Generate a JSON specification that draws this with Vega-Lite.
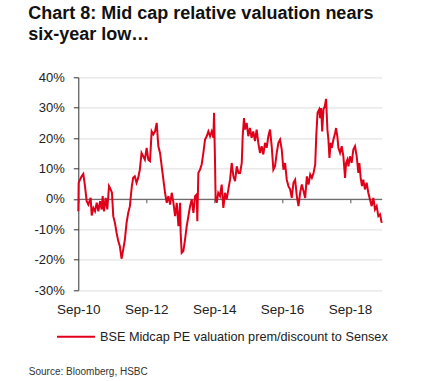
{
"$schema":"https://vega.github.io/schema/vega-lite/v6.json",
"autosize":{"type":"none"},
"width":303.4,"height":212.7,
"padding":{"left":78.3,"top":77.3,"right":44.3,"bottom":91},
"background":"white",
"config":{"font":"Liberation Sans","view":{"stroke":null}},
"title":{"text":["Chart 8: Mid cap relative valuation nears","six-year low…"],"anchor":"start","frame":"group","dx":-50,"offset":27,"fontSize":18,"fontWeight":"bold","lineHeight":21.5,"color":"#111","font":"Liberation Sans"},
"data":{"values":[
{"d":"2010-09-01","v":-4.1},{"d":"2010-09-05","v":5.3},{"d":"2010-09-19","v":6.3},{"d":"2010-10-07","v":7.4},{"d":"2010-10-25","v":8.2},{"d":"2010-11-12","v":4.2},{"d":"2010-11-30","v":-0.8},{"d":"2010-12-18","v":-1.9},{"d":"2011-01-12","v":0.3},{"d":"2011-01-23","v":-5.5},{"d":"2011-02-10","v":-3.0},{"d":"2011-02-28","v":-4.1},{"d":"2011-03-18","v":-1.3},{"d":"2011-04-05","v":-4.1},{"d":"2011-04-23","v":-0.8},{"d":"2011-05-10","v":-3.5},{"d":"2011-05-21","v":0.9},{"d":"2011-06-04","v":-4.1},{"d":"2011-06-22","v":0.3},{"d":"2011-07-10","v":-3.5},{"d":"2011-07-28","v":4.2},{"d":"2011-08-15","v":3.1},{"d":"2011-08-29","v":2.0},{"d":"2011-09-12","v":-5.7},{"d":"2011-09-30","v":-7.9},{"d":"2011-10-18","v":-11.2},{"d":"2011-11-05","v":-13.9},{"d":"2011-11-22","v":-15.6},{"d":"2011-12-10","v":-19.7},{"d":"2011-12-28","v":-16.7},{"d":"2012-01-15","v":-13.4},{"d":"2012-02-02","v":-7.9},{"d":"2012-02-20","v":-4.6},{"d":"2012-03-09","v":-2.4},{"d":"2012-03-19","v":0.9},{"d":"2012-03-30","v":4.2},{"d":"2012-04-13","v":6.9},{"d":"2012-05-01","v":7.4},{"d":"2012-05-19","v":5.3},{"d":"2012-06-06","v":6.9},{"d":"2012-06-24","v":9.6},{"d":"2012-07-12","v":15.1},{"d":"2012-07-30","v":14.0},{"d":"2012-08-17","v":12.9},{"d":"2012-09-05","v":16.8},{"d":"2012-09-23","v":12.9},{"d":"2012-10-11","v":12.4},{"d":"2012-10-29","v":22.2},{"d":"2012-11-16","v":21.2},{"d":"2012-12-04","v":22.2},{"d":"2012-12-22","v":25.0},{"d":"2013-01-09","v":17.3},{"d":"2013-01-27","v":15.1},{"d":"2013-02-14","v":10.7},{"d":"2013-03-04","v":6.3},{"d":"2013-03-22","v":2.0},{"d":"2013-04-09","v":-1.3},{"d":"2013-04-27","v":0.9},{"d":"2013-05-15","v":-1.9},{"d":"2013-06-02","v":2.0},{"d":"2013-06-20","v":-1.3},{"d":"2013-07-08","v":-5.7},{"d":"2013-07-26","v":-1.3},{"d":"2013-08-13","v":-9.0},{"d":"2013-08-31","v":-1.3},{"d":"2013-09-06","v":-11.2},{"d":"2013-09-17","v":-17.8},{"d":"2013-10-05","v":-17.2},{"d":"2013-10-23","v":-13.4},{"d":"2013-11-10","v":-9.0},{"d":"2013-11-28","v":-5.7},{"d":"2013-12-16","v":-2.4},{"d":"2014-01-03","v":-0.2},{"d":"2014-01-21","v":-4.6},{"d":"2014-02-08","v":0.9},{"d":"2014-02-26","v":1.5},{"d":"2014-03-04","v":-7.4},{"d":"2014-03-15","v":8.5},{"d":"2014-04-02","v":9.6},{"d":"2014-04-20","v":11.3},{"d":"2014-05-08","v":15.1},{"d":"2014-05-26","v":19.5},{"d":"2014-06-13","v":20.6},{"d":"2014-07-01","v":22.2},{"d":"2014-07-19","v":20.6},{"d":"2014-08-06","v":22.2},{"d":"2014-08-24","v":20.1},{"d":"2014-08-31","v":28.3},{"d":"2014-09-10","v":12.9},{"d":"2014-09-17","v":-0.2},{"d":"2014-09-28","v":-1.3},{"d":"2014-10-15","v":2.0},{"d":"2014-11-03","v":0.9},{"d":"2014-11-21","v":4.7},{"d":"2014-12-09","v":-3.0},{"d":"2014-12-27","v":2.0},{"d":"2015-01-14","v":-0.2},{"d":"2015-02-01","v":3.1},{"d":"2015-02-19","v":6.3},{"d":"2015-03-09","v":11.8},{"d":"2015-03-27","v":7.4},{"d":"2015-04-14","v":5.8},{"d":"2015-05-02","v":10.7},{"d":"2015-05-20","v":8.5},{"d":"2015-06-07","v":8.5},{"d":"2015-06-25","v":11.8},{"d":"2015-07-05","v":20.6},{"d":"2015-07-19","v":26.6},{"d":"2015-07-30","v":22.8},{"d":"2015-08-17","v":25.0},{"d":"2015-09-03","v":20.6},{"d":"2015-09-21","v":23.3},{"d":"2015-10-09","v":20.1},{"d":"2015-10-27","v":22.2},{"d":"2015-11-14","v":19.0},{"d":"2015-12-02","v":22.8},{"d":"2015-12-20","v":18.4},{"d":"2016-01-07","v":15.1},{"d":"2016-01-25","v":17.3},{"d":"2016-02-12","v":14.6},{"d":"2016-03-01","v":18.4},{"d":"2016-03-19","v":16.8},{"d":"2016-04-06","v":20.6},{"d":"2016-04-24","v":22.8},{"d":"2016-05-12","v":17.3},{"d":"2016-05-30","v":9.6},{"d":"2016-06-17","v":10.7},{"d":"2016-07-05","v":15.1},{"d":"2016-07-23","v":18.4},{"d":"2016-08-10","v":19.5},{"d":"2016-08-28","v":16.2},{"d":"2016-09-15","v":9.6},{"d":"2016-10-03","v":11.8},{"d":"2016-10-21","v":6.3},{"d":"2016-11-08","v":4.2},{"d":"2016-11-26","v":3.1},{"d":"2016-12-14","v":0.3},{"d":"2017-01-01","v":5.3},{"d":"2017-01-19","v":6.3},{"d":"2017-02-06","v":0.9},{"d":"2017-02-24","v":-2.4},{"d":"2017-03-14","v":2.0},{"d":"2017-04-01","v":4.7},{"d":"2017-04-19","v":2.6},{"d":"2017-05-07","v":0.3},{"d":"2017-05-25","v":7.4},{"d":"2017-06-12","v":4.7},{"d":"2017-06-30","v":8.0},{"d":"2017-07-18","v":6.9},{"d":"2017-08-05","v":8.5},{"d":"2017-08-23","v":11.3},{"d":"2017-09-03","v":20.6},{"d":"2017-09-17","v":28.3},{"d":"2017-10-05","v":29.4},{"d":"2017-10-15","v":26.6},{"d":"2017-10-26","v":29.9},{"d":"2017-11-06","v":22.2},{"d":"2017-11-20","v":29.4},{"d":"2017-12-04","v":30.5},{"d":"2017-12-18","v":32.9},{"d":"2018-01-01","v":22.8},{"d":"2018-01-12","v":19.5},{"d":"2018-01-23","v":13.5},{"d":"2018-02-06","v":18.4},{"d":"2018-02-17","v":16.8},{"d":"2018-03-07","v":19.5},{"d":"2018-03-25","v":21.7},{"d":"2018-04-04","v":23.3},{"d":"2018-04-18","v":20.6},{"d":"2018-04-29","v":16.8},{"d":"2018-05-17","v":15.1},{"d":"2018-06-04","v":17.3},{"d":"2018-06-22","v":14.0},{"d":"2018-07-10","v":6.9},{"d":"2018-07-21","v":11.8},{"d":"2018-08-04","v":12.9},{"d":"2018-08-15","v":10.7},{"d":"2018-09-01","v":14.0},{"d":"2018-09-19","v":11.8},{"d":"2018-10-07","v":16.2},{"d":"2018-10-25","v":17.3},{"d":"2018-11-12","v":14.0},{"d":"2018-11-30","v":8.5},{"d":"2018-12-11","v":11.8},{"d":"2018-12-25","v":6.9},{"d":"2019-01-08","v":4.2},{"d":"2019-01-22","v":6.3},{"d":"2019-02-09","v":3.1},{"d":"2019-02-27","v":5.3},{"d":"2019-03-17","v":2.0},{"d":"2019-04-04","v":-0.2},{"d":"2019-04-22","v":-2.4},{"d":"2019-05-10","v":0.3},{"d":"2019-05-28","v":-3.5},{"d":"2019-06-15","v":-2.4},{"d":"2019-07-03","v":-5.7},{"d":"2019-07-21","v":-5.1},{"d":"2019-08-08","v":-7.9}
]},
"layer":[
{"mark":{"type":"line","strokeOpacity":0},
 "encoding":{
  "x":{"field":"d","type":"temporal","scale":{"type":"utc","nice":false},
   "axis":{"orient":"bottom","offset":-91.2,"values":[{"year":2010,"month":"sep","date":1,"utc":true},{"year":2012,"month":"sep","date":1,"utc":true},{"year":2014,"month":"sep","date":1,"utc":true},{"year":2016,"month":"sep","date":1,"utc":true},{"year":2018,"month":"sep","date":1,"utc":true}],"labels":false,"grid":false,"title":null,"domainColor":"#6e6e6e","domainWidth":1.2,"tickColor":"#6e6e6e","tickSize":4,"tickWidth":1.2}},
  "y":{"field":"v","type":"quantitative","scale":{"domain":[-30,40],"nice":false,"zero":false},
   "axis":{"values":[-30,-20,-10,0,10,20,30,40],"labelExpr":"datum.value + '%'","labelFontSize":13,"labelColor":"#222","labelPadding":9,"tickSize":5,"tickColor":"#333","domainColor":"#333","gridColor":"#e3e3e3","gridWidth":1.2,"title":null}}}},
{"mark":{"type":"line","strokeWidth":2,"color":"#e10019"},
 "encoding":{
  "x":{"field":"d","type":"temporal","scale":{"type":"utc","nice":false},
   "axis":{"orient":"bottom","format":"%b-%y","values":[{"year":2010,"month":"sep","date":1,"utc":true},{"year":2012,"month":"sep","date":1,"utc":true},{"year":2014,"month":"sep","date":1,"utc":true},{"year":2016,"month":"sep","date":1,"utc":true},{"year":2018,"month":"sep","date":1,"utc":true}],"domain":false,"ticks":false,"grid":false,"labelFontSize":13.5,"labelColor":"#222","labelPadding":12,"labelFlush":false,"title":"Source: Bloomberg, HSBC","titleAnchor":"start","titleAlign":"left","titleX":-50,"titleY":84,"titleBaseline":"alphabetic","titleFontSize":10,"titleFontWeight":"normal","titleColor":"#333"}},
  "y":{"field":"v","type":"quantitative","scale":{"domain":[-30,40],"nice":false,"zero":false},
   "axis":{"values":[-30,-20,-10,0,10,20,30,40],"labelExpr":"datum.value + '%'","labelFontSize":13,"labelColor":"#222","labelPadding":9,"tickSize":5,"tickColor":"#333","domainColor":"#333","gridColor":"#e3e3e3","gridWidth":1.2,"title":null}},
  "color":{"datum":"BSE Midcap PE valuation prem/discount to Sensex","scale":{"range":["#e10019"]},
   "legend":{"orient":"none","legendX":-22.3,"legendY":239.5,"padding":0,"symbolType":"stroke","symbolSize":1444,"symbolStrokeWidth":2,"labelFontSize":12.7,"labelLimit":0,"labelColor":"#222","labelOffset":4,"title":null}}}}
],
"resolve":{"axis":{"x":"independent"}}
}
